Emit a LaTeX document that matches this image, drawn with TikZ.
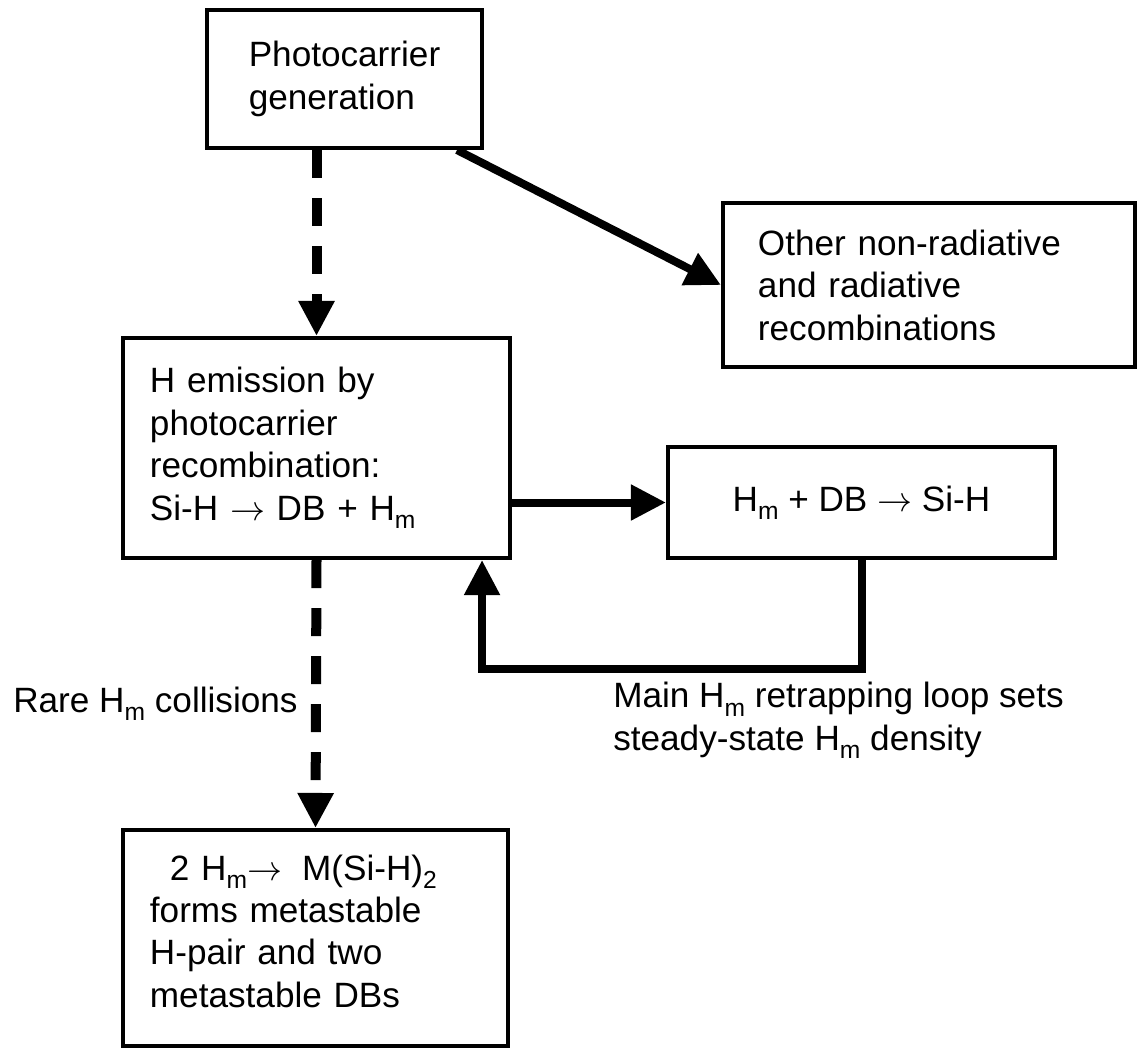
\documentclass[tikz,border=0pt]{standalone}
\usepackage{fontspec}
\setmainfont{Liberation Sans}
\usetikzlibrary{arrows.meta}

% 下标 (较大且偏低)
\newcommand{\lowsub}[1]{\raisebox{-0.24em}{\fontsize{17.5}{17.5}\selectfont #1}}

\begin{document}
\begin{tikzpicture}[x=0.025cm, y=-0.025cm,  % 以像素为单位, y 向下
    every node/.style={font=\fontsize{25}{30.2}\selectfont, inner sep=0pt},
    box/.style={draw, line width=0.1cm, align=left},
    arr/.style={line width=0.2cm, -{Triangle[length=0.875cm, width=0.85cm]}},
    dasharr/.style={arr, line width=0.25cm, dash pattern=on 0.7cm off 0.5cm}]

    % 画布范围
    \useasboundingbox (0,0) rectangle (1141,1050);

    % 绘制方框
    \node[box, minimum width=6.875cm, minimum height=3.45cm] (gen) at (344.5,79) {Photocarrier\\generation};
    \node[box, minimum width=10.3cm, minimum height=4.1cm, text width=8.55cm] (other) at (929,285) {Other non-radiative\\and radiative\\recombinations};
    \node[box, minimum width=9.675cm, minimum height=5.5cm, text width=8.325cm] (emit) at (316.5,448) {H emission by\\photocarrier\\recombination:\\Si-H $\rightarrow$ DB + H\lowsub{m}};
    \node[box, align=center, minimum width=9.675cm, minimum height=2.775cm] (retrap) at (861.5,502.5) {H\lowsub{m} + DB $\rightarrow$ Si-H};
    \node[box, minimum width=9.625cm, minimum height=5.4cm, text width=8.275cm] (pair) at (315.5,938) {\hspace*{0.5cm}2 H\lowsub{m}$\rightarrow$\hspace{0.5cm}M(Si-H)\lowsub{2}\\forms metastable\\H-pair and two\\metastable DBs\rule[-0.35cm]{0pt}{0pt}};

    % 绘制箭头
    \draw[dasharr] (emit.north |- gen.south) -- (emit.north); % 虚线: 产生 -> 发射
    \draw[arr] ([xshift=-0.675cm]gen.south east) -- (other.west); % 其他复合
    \draw[arr] (emit.east |- retrap.west) -- (retrap.west);
    \draw[arr] (retrap.south) -- ++(0,109) -| ([xshift=-0.75cm]emit.south east); % 回路
    \draw[dasharr] (emit.south) -- (pair.north); % 虚线: 碰撞

    % 标签
    \node[anchor=base west] (rarelbl) at (13,712) {Rare H\lowsub{m} collisions};
    \node[anchor=north west, align=left] (looplbl) at (613,682) {Main H\lowsub{m} retrapping loop sets\\steady-state H\lowsub{m} density};

\end{tikzpicture}
\end{document}
